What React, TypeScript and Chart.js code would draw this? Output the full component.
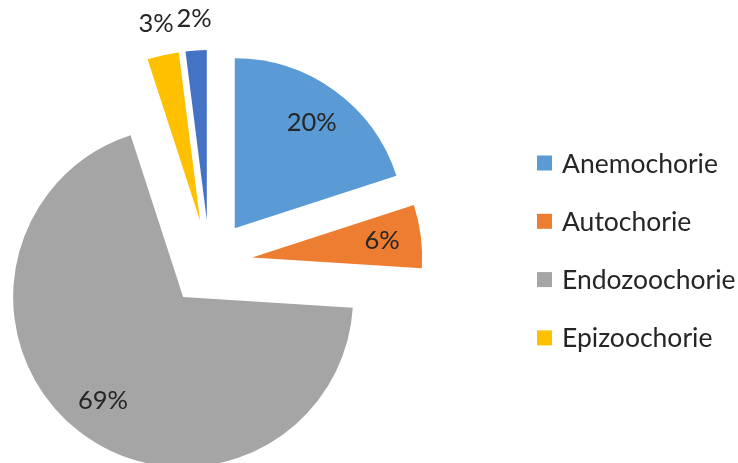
import React, { useEffect, useRef } from "react";
import { Chart, registerables } from "chart.js";

Chart.register(...registerables);

const categories = ["Anemochorie", "Autochorie", "Endozoochorie", "Epizoochorie", "Hydrochorie"];
const shares = [20, 6, 69, 3, 2];
const sliceColors = ["#5B9BD5", "#ED7D31", "#A5A5A5", "#FFC000", "#4472C4"];
const legendCount = 4;

const FONT = "Lato, 'DejaVu Sans', sans-serif";
const TEXT_COLOR = "#262626";

const EXPLODE = 43;
const RADIUS = 170;

// Shift each slice outward along its mid-angle without narrowing it
const explodePlugin = {
  id: "explode",
  beforeDatasetsDraw(chart: any) {
    chart.getDatasetMeta(0).data.forEach((arc: any) => {
      if (arc.__exploded) return;
      arc.__exploded = true;
      const orig = arc.draw;
      arc.draw = function (ctx: CanvasRenderingContext2D, area: any) {
        const p = this.getProps(["startAngle", "endAngle"], true);
        const mid = (p.startAngle + p.endAngle) / 2;
        ctx.save();
        ctx.translate(Math.cos(mid) * EXPLODE, Math.sin(mid) * EXPLODE);
        orig.call(this, ctx, area);
        ctx.restore();
      };
    });
  },
};

const pieLabelsPlugin = {
  id: "pieLabels",
  afterDatasetsDraw(chart: any) {
    const ctx = chart.ctx;
    const meta = chart.getDatasetMeta(0);
    const values = chart.data.datasets[0].data as number[];
    const total = values.reduce((a, b) => a + b, 0);
    ctx.save();
    ctx.font = `25.5px ${FONT}`;
    ctx.fillStyle = TEXT_COLOR;
    ctx.textAlign = "center";
    ctx.textBaseline = "middle";
    meta.data.forEach((arc: any, i: number) => {
      const p = arc.getProps(["x", "y", "startAngle", "endAngle", "outerRadius"], true);
      const r = p.outerRadius;
      const mid = (p.startAngle + p.endAngle) / 2;
      const pct = (values[i] / total) * 100;
      const dist = pct < 5 ? EXPLODE + r + 32 : EXPLODE + r * 0.77;
      const x = p.x + Math.cos(mid) * dist;
      const y = p.y + Math.sin(mid) * dist;
      ctx.fillText(`${Math.round(pct)}%`, x, y);
    });
    ctx.restore();
  },
};

const legendPlugin = {
  id: "sideLegend",
  afterDraw(chart: any) {
    const ctx = chart.ctx;
    const labels = chart.data.labels as string[];
    const colors = chart.data.datasets[0].backgroundColor as string[];
    const x0 = 537;
    const y0 = 163;
    const step = 58.3;
    const box = 15;
    ctx.save();
    ctx.font = `26.5px ${FONT}`;
    ctx.textAlign = "left";
    ctx.textBaseline = "middle";
    for (let i = 0; i < legendCount; i++) {
      const y = y0 + i * step;
      ctx.fillStyle = colors[i];
      ctx.fillRect(x0, y - box / 2, box, box);
      ctx.fillStyle = TEXT_COLOR;
      ctx.fillText(labels[i], x0 + 25, y + 1);
    }
    ctx.restore();
  },
};

export default function App() {
  const ref = useRef<HTMLCanvasElement>(null);
  useEffect(() => {
    if (!ref.current) return;
    const chart = new Chart(ref.current, {
      type: "pie",
      data: {
        labels: categories,
        datasets: [
          {
            data: shares,
            backgroundColor: sliceColors,
            borderWidth: 0,
            offset: 0,
            radius: RADIUS,
            clip: false,
          } as any,
        ],
      },
      options: {
        responsive: false,
        animation: false,
        layout: { padding: { left: 0, top: 63, right: 319, bottom: 0 } },
        plugins: {
          legend: { display: false },
          tooltip: { enabled: false },
        },
      },
      plugins: [explodePlugin, pieLabelsPlugin, legendPlugin],
    });
    return () => chart.destroy();
  }, []);
  return (
    <div style={{ position: "fixed", left: 0, top: 0, width: 738, height: 463, background: "#fff", overflow: "hidden" }}>
      <canvas ref={ref} width={738} height={463} style={{ display: "block" }} />
    </div>
  );
}
